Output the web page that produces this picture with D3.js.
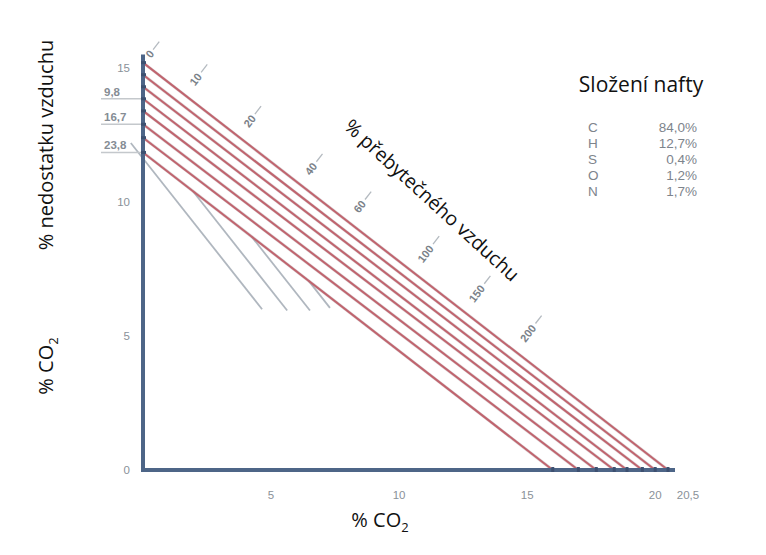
<!DOCTYPE html>
<html><head><meta charset="utf-8">
<script src="https://cdn.jsdelivr.net/npm/d3@7/dist/d3.min.js"></script>
<style>body{margin:0;background:#fff}svg{display:block}</style>
</head><body>
<svg id="c" width="766" height="555"></svg>
<script>
// ---- data ----
const xTicks = [0, 5, 10, 15, 20];
const xTickLabels = ["", "5", "10", "15", "20"];
const xEndLabel = "20,5";
const yTicks = [0, 5, 10, 15];
const yTickLabels = ["0", "5", "10", "15"];
// air-deficiency lines: intercept on CO2 axis (y) and on x axis
const lineYInt = [15.2, 14.75, 14.3, 13.85, 13.4, 12.9, 12.4, 11.85];
const lineXInt = [20.5, 20.0, 19.5, 18.9, 18.4, 17.7, 17.0, 16.0];
const deficiencyIdx = [3, 5, 7];
const deficiencyLabels = ["9,8", "16,7", "23,8"];
// grey steep lines: lower end points
const greyEndX = [4.65, 5.63, 6.52, 7.3];
const greyEndY = [6.0, 5.95, 5.95, 6.05];
const greySlope = 1.21;
// excess-air marks along the top line
const excessX = [0, 1.6, 3.7, 6.1, 8.0, 10.5, 12.5, 14.5];
const excessLabels = ["0", "10", "20", "40", "60", "100", "150", "200"];
// fuel composition
const elements = ["C", "H", "S", "O", "N"];
const elementShares = ["84,0%", "12,7%", "0,4%", "1,2%", "1,7%"];

// ---- scales ----
const svg = d3.select("#c");
const x = d3.scaleLinear().domain([0, 20.5]).range([143, 668]);
const y = d3.scaleLinear().domain([0, 15]).range([470, 68]);
const axisCol = "#4d6587", tickCol = "#8a9199", redCol = "#c0646e";
const sans = "'Liberation Sans', Arial, sans-serif";
const title = "'Open Sans', 'Noto Sans', sans-serif";

// grey steep lines (drawn first, under red bundle)
const yb = lineYInt[lineYInt.length-1], xb = lineXInt[lineXInt.length-1];
greyEndX.forEach((ex, i) => {
  const ey = greyEndY[i];
  const X = (ey + greySlope*ex - yb) / (greySlope - yb/xb);
  const Y = yb*(1 - X/xb);
  svg.append("line").attr("x1", x(X)).attr("y1", y(Y)).attr("x2", x(ex)).attr("y2", y(ey))
    .attr("stroke", "#b0b7bf").attr("stroke-width", 1.8);
});

// deficiency label guide lines
deficiencyIdx.forEach((k, i) => {
  const yy = y(lineYInt[k]);
  svg.append("line").attr("x1", 101).attr("x2", x(0)).attr("y1", yy).attr("y2", yy)
    .attr("stroke", "#c4c8cc").attr("stroke-width", 1.5);
  svg.append("text").attr("x", 104).attr("y", yy - 3).attr("font-family", sans)
    .attr("font-size", 11.5).attr("font-weight", "bold").attr("fill", "#858c94").text(deficiencyLabels[i]);
});

// red lines
const lineGen = d3.line().x(d => x(d[0])).y(d => y(d[1]));
lineYInt.forEach((yi, i) => {
  const pts = [[0, yi], [lineXInt[i], 0]];
  svg.append("path").attr("d", lineGen(pts)).attr("stroke", "#9c8a8e").attr("stroke-width", 3).attr("fill", "none").attr("opacity", 0.35);
  svg.append("path").attr("d", lineGen(pts)).attr("stroke", redCol).attr("stroke-width", 2).attr("fill", "none");
});

// excess-air marks
const topY = lineYInt[0], topX = lineXInt[0];
const ang = Math.atan2(y(0) - y(topY), x(topX) - x(0));
const nx = Math.sin(ang), ny = -Math.cos(ang);
const rot = -(90 - ang*180/Math.PI);
excessX.forEach((ex, i) => {
  const fx = x(ex), fy = y(topY*(1 - ex/topX));
  const d0 = i === 0 ? 8 : 13;
  const g = svg.append("g").attr("transform", `translate(${fx + nx*d0},${fy + ny*d0}) rotate(${rot})`);
  g.append("text").attr("x", 0).attr("y", 4).attr("font-family", sans).attr("font-size", 11)
    .attr("font-weight", "bold").attr("fill", "#7a8189").text(excessLabels[i]);
  const w = excessLabels[i].length * 6.5;
  g.append("line").attr("x1", w + 2).attr("x2", w + 12).attr("y1", 0).attr("y2", 0)
    .attr("stroke", "#b4bac0").attr("stroke-width", 1.3);
});

// axes
svg.append("line").attr("x1", x(0)).attr("x2", x(0)).attr("y1", y(15.5)).attr("y2", y(0) + 2)
  .attr("stroke", axisCol).attr("stroke-width", 4);
svg.append("line").attr("x1", x(0) - 2).attr("x2", 675).attr("y1", y(0)).attr("y2", y(0))
  .attr("stroke", axisCol).attr("stroke-width", 4);
lineYInt.forEach(v => svg.append("rect").attr("x", x(0) - 2).attr("y", y(v) - 1.5).attr("width", 5).attr("height", 3).attr("fill", "#3d5070"));
lineXInt.forEach(v => svg.append("rect").attr("x", x(v) - 1.5).attr("y", y(0) - 3).attr("width", 3).attr("height", 5).attr("fill", "#3d5070"));

// tick labels
yTicks.forEach((v, i) => svg.append("text").attr("x", 130).attr("y", y(v) + 4).attr("text-anchor", "end")
  .attr("font-family", sans).attr("font-size", 11.5).attr("fill", tickCol).text(yTickLabels[i]));
xTicks.forEach((v, i) => svg.append("text").attr("x", x(v)).attr("y", 499).attr("text-anchor", "middle")
  .attr("font-family", sans).attr("font-size", 11.5).attr("fill", tickCol).text(xTickLabels[i]));
svg.append("text").attr("x", 688).attr("y", 499).attr("text-anchor", "middle")
  .attr("font-family", sans).attr("font-size", 11.5).attr("fill", tickCol).text(xEndLabel);

// titles
svg.append("text").attr("transform", "translate(53,145) rotate(-90)").attr("text-anchor", "middle")
  .attr("font-family", title).attr("font-size", 20).attr("fill", "#111").text("% nedostatku vzduchu");
const co2a = svg.append("text").attr("transform", "translate(53,366) rotate(-90)").attr("text-anchor", "middle")
  .attr("font-family", title).attr("font-size", 20).attr("fill", "#111");
co2a.append("tspan").text("% CO");
co2a.append("tspan").attr("font-size", 13).attr("dy", 5).text("2");
const co2b = svg.append("text").attr("x", 380).attr("y", 527).attr("text-anchor", "middle")
  .attr("font-family", title).attr("font-size", 20).attr("fill", "#111");
co2b.append("tspan").text("% CO");
co2b.append("tspan").attr("font-size", 13).attr("dy", 5).text("2");

svg.append("text").attr("transform", "translate(343,128) rotate(42.5)")
  .attr("font-family", title).attr("font-size", 19.5).attr("fill", "#111").text("% přebytečného vzduchu");

svg.append("text").attr("x", 641).attr("y", 92).attr("text-anchor", "middle")
  .attr("font-family", title).attr("font-size", 21).attr("fill", "#111").text("Složení nafty");
elements.forEach((e, i) => {
  svg.append("text").attr("x", 588).attr("y", 132 + i*16).attr("font-family", sans).attr("font-size", 13.5)
    .attr("fill", "#7d848c").text(e);
  svg.append("text").attr("x", 697).attr("y", 132 + i*16).attr("text-anchor", "end").attr("font-family", sans)
    .attr("font-size", 13.5).attr("fill", "#7d848c").text(elementShares[i]);
});
</script>
</body></html>
